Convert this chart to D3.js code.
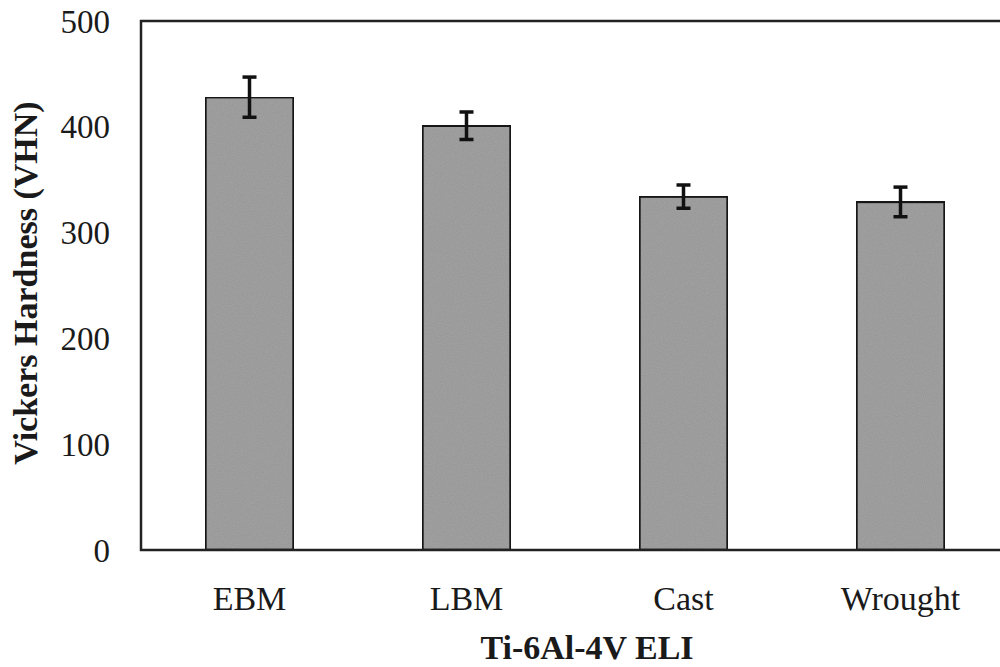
<!DOCTYPE html>
<html>
<head>
<meta charset="utf-8">
<script src="https://cdn.jsdelivr.net/npm/d3@7"></script>
<style>
  body { margin: 0; background: #fff; }
  svg text { font-family: "Liberation Serif", "Times New Roman", serif; fill: #1a1a1a; }
</style>
</head>
<body>
<div id="chart"></div>
<script>
// values
let categories = ["EBM", "LBM", "Cast", "Wrought"];
let hardness = [428, 401, 334, 329];
let errors = [19, 13, 11, 14];
let yTicks = [0, 100, 200, 300, 400, 500];

let width = 1000, height = 667;
let plotLeft = 141, plotTop = 21, plotBottom = 550, plotRight = 1009;

let svg = d3.select("#chart").append("svg")
    .attr("width", width)
    .attr("height", height);

// grainy fill like the scanned original
let defs = svg.append("defs");
let filter = defs.append("filter").attr("id", "grain")
    .attr("x", 0).attr("y", 0).attr("width", 1).attr("height", 1);
filter.append("feTurbulence")
    .attr("type", "fractalNoise").attr("baseFrequency", 0.9)
    .attr("numOctaves", 2).attr("seed", 3).attr("result", "noise");
filter.append("feColorMatrix")
    .attr("in", "noise").attr("type", "matrix")
    .attr("values", "0 0 0 0 0  0 0 0 0 0  0 0 0 0 0  0 0 0 0.2 0")
    .attr("result", "dots");
filter.append("feComposite")
    .attr("in", "dots").attr("in2", "SourceGraphic").attr("operator", "in")
    .attr("result", "clipped");
filter.append("feMerge").selectAll("feMergeNode")
    .data(["SourceGraphic", "clipped"]).enter()
    .append("feMergeNode").attr("in", d => d);

let x = d3.scaleBand()
    .domain(categories)
    .range([plotLeft, plotRight])
    .paddingInner(0.594)
    .paddingOuter(0.297);

let y = d3.scaleLinear()
    .domain([0, 500])
    .range([plotBottom, plotTop]);

// bars
svg.selectAll(".bar")
    .data(categories)
    .enter()
    .append("rect")
    .attr("x", d => x(d))
    .attr("y", (d, i) => y(hardness[i]))
    .attr("width", x.bandwidth())
    .attr("height", (d, i) => y(0) - y(hardness[i]))
    .attr("fill", "#a4a4a4")
    .attr("filter", "url(#grain)")
    .attr("stroke", "#1e1e1e")
    .attr("stroke-width", 2.5);

// error bars
let err = svg.selectAll(".err")
    .data(categories)
    .enter()
    .append("g")
    .attr("stroke", "#111")
    .attr("stroke-width", 3.5);

err.append("line")
    .attr("x1", d => x(d) + x.bandwidth() / 2)
    .attr("x2", d => x(d) + x.bandwidth() / 2)
    .attr("y1", (d, i) => y(hardness[i] + errors[i]))
    .attr("y2", (d, i) => y(hardness[i] - errors[i]));

[1, -1].forEach(s => {
    err.append("line")
        .attr("x1", d => x(d) + x.bandwidth() / 2 - 7)
        .attr("x2", d => x(d) + x.bandwidth() / 2 + 7)
        .attr("y1", (d, i) => y(hardness[i] + s * errors[i]))
        .attr("y2", (d, i) => y(hardness[i] + s * errors[i]));
});

// frame (right side runs off the picture)
svg.append("path")
    .attr("d", `M${width + 5},${plotTop}H${plotLeft}V${plotBottom}H${width + 5}`)
    .attr("fill", "none")
    .attr("stroke", "#222")
    .attr("stroke-width", 2.5);

// y tick labels
svg.selectAll(".ytick")
    .data(yTicks)
    .enter()
    .append("text")
    .attr("x", 110)
    .attr("y", d => y(d))
    .attr("dy", "0.35em")
    .attr("text-anchor", "end")
    .attr("font-size", 33)
    .text(d => d);

// category labels
svg.selectAll(".xlabel")
    .data(categories)
    .enter()
    .append("text")
    .attr("x", d => x(d) + x.bandwidth() / 2)
    .attr("y", 610)
    .attr("text-anchor", "middle")
    .attr("font-size", 34)
    .text(d => d);

// axis titles
svg.append("text")
    .attr("x", 587)
    .attr("y", 659)
    .attr("text-anchor", "middle")
    .attr("font-size", 34)
    .attr("font-weight", "bold")
    .text("Ti-6Al-4V ELI");

svg.append("text")
    .attr("transform", "translate(37,283) rotate(-90)")
    .attr("text-anchor", "middle")
    .attr("font-size", 34)
    .attr("font-weight", "bold")
    .text("Vickers Hardness (VHN)");
</script>
</body>
</html>
